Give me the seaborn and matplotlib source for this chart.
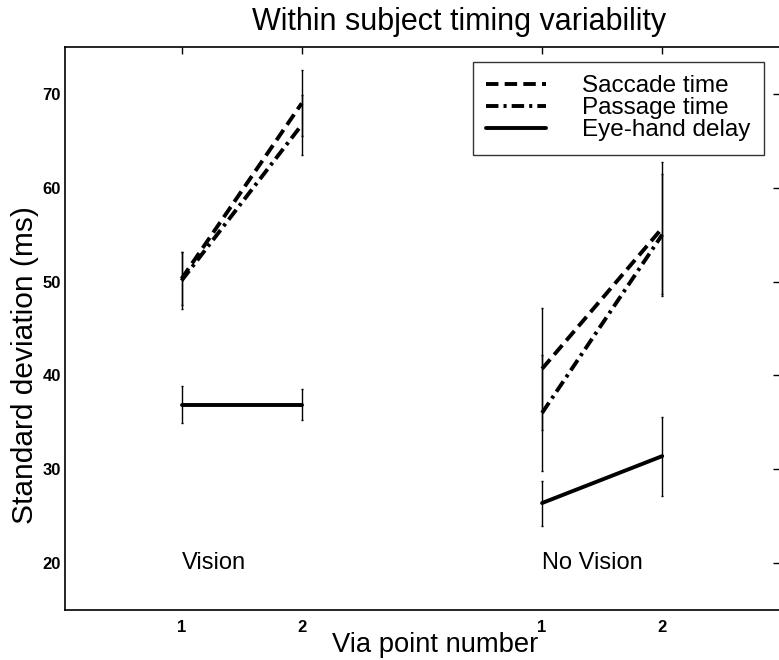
import matplotlib
matplotlib.use("Agg")
import matplotlib.pyplot as plt
import seaborn as sns
import numpy as np
import pandas as pd

# ---- data ----
conditions = ["Vision", "No Vision"]
via_points = [1, 2]
x_positions = {"Vision": [1, 2], "No Vision": [4, 5]}
xtick_labels = ["1", "2", "1", "2"]

series = ["Saccade time", "Passage time", "Eye-hand delay"]
saccade_mean = {"Vision": [50.3, 69.0], "No Vision": [40.7, 55.7]}
saccade_err = {"Vision": [2.8, 3.5], "No Vision": [6.5, 7.0]}
passage_mean = {"Vision": [50.1, 66.7], "No Vision": [36.0, 55.0]}
passage_err = {"Vision": [3.0, 3.2], "No Vision": [6.2, 6.5]}
eyehand_mean = {"Vision": [36.9, 36.9], "No Vision": [26.4, 31.4]}
eyehand_err = {"Vision": [2.0, 1.65], "No Vision": [2.4, 4.2]}

means = {"Saccade time": saccade_mean, "Passage time": passage_mean, "Eye-hand delay": eyehand_mean}
errs = {"Saccade time": saccade_err, "Passage time": passage_err, "Eye-hand delay": eyehand_err}
styles = {"Saccade time": (0, (3.2, 1.6)), "Passage time": (0, (3.2, 1.3, 0.8, 1.3)), "Eye-hand delay": "-"}

rows = []
for s in series:
    for c in conditions:
        for i, vp in enumerate(via_points):
            rows.append(dict(series=s, condition=c, via=vp, x=x_positions[c][i],
                             mean=means[s][c][i], err=errs[s][c][i]))
df = pd.DataFrame(rows)

sns.set_theme(style="white")
plt.rcParams['font.family'] = ['Liberation Sans', 'DejaVu Sans']
plt.rcParams['text.color'] = 'black'
plt.rcParams['axes.labelcolor'] = 'black'
plt.rcParams['xtick.color'] = 'black'
plt.rcParams['ytick.color'] = 'black'

fig = plt.figure(figsize=(7.79, 6.60), dpi=100)
ax = fig.add_axes([65/779, 1-610/660, (780-65)/779, (610-47)/660])

handles = {}
for s in series:
    for c in conditions:
        sub = df[(df.series == s) & (df.condition == c)]
        ax.errorbar(sub.x, sub["mean"], yerr=sub.err, fmt="none", ecolor="black",
                    elinewidth=1.0, capsize=1.0, capthick=1.0, zorder=2)
        sns.lineplot(data=sub, x="x", y="mean", ax=ax, color="black", linewidth=2.8,
                     linestyle=styles[s], legend=False, zorder=3)
    handles[s] = plt.Line2D([], [], color="black", linewidth=2.8, linestyle=styles[s])

ax.set_xlim(0.03, 5.98)
ax.set_ylim(15, 75)
ax.set_xticks([1, 2, 4, 5])
ax.set_xticklabels(xtick_labels)
ax.set_yticks([20, 30, 40, 50, 60, 70])
ax.tick_params(direction="in", top=True, right=True, length=5, width=1, colors="black",
               labelsize=12)
ax.tick_params(axis="x", pad=7)
ax.tick_params(axis="y", pad=3)
for lab in ax.get_xticklabels() + ax.get_yticklabels():
    lab.set_fontweight("bold")
for sp in ax.spines.values():
    sp.set_color("black")
    sp.set_linewidth(1.2)

ax.text(1, 20, "Vision", fontsize=17, va="center", ha="left")
ax.text(4, 20, "No Vision", fontsize=17, va="center", ha="left")

ax.set_title("Within subject timing variability", fontsize=22, pad=12,
             x=(459 - 65) / 715)
ax.set_xlabel("Via point number", fontsize=19.75, va="baseline", ha="center")
ax.xaxis.set_label_coords((435 - 65) / 715, -(652 - 610) / 563)
ax.set_ylabel("Standard deviation (ms)", fontsize=21.5, va="center", ha="center")
ax.yaxis.set_label_coords((25 - 65) / 715, (610 - 365) / 563)

leg = ax.legend([handles[s] for s in series], series, loc="upper right",
                bbox_to_anchor=((764 - 65) / 715, (610 - 62) / 563), fontsize=17.5,
                frameon=True, fancybox=False, edgecolor="black",
                handlelength=2.47, handletextpad=1.48,
                borderpad=0.55, labelspacing=0.0, borderaxespad=0)
leg.get_frame().set_linewidth(1.0)

fig.savefig("out.png", dpi=100, facecolor="white")
